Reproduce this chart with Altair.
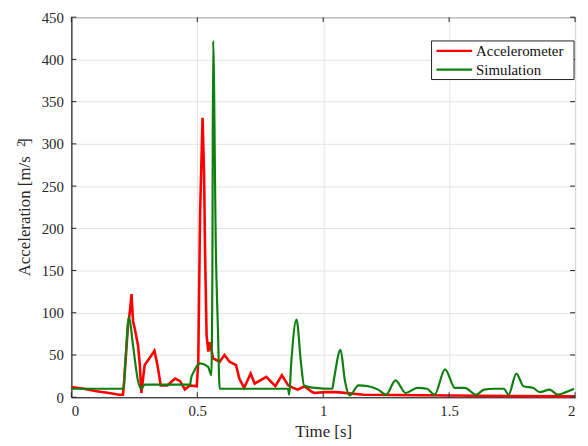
import altair as alt
import pandas as pd

# Accelerometer (red)
red_t = [0.00, 0.05, 0.10, 0.15, 0.19, 0.205, 0.21, 0.225, 0.232, 0.239, 0.245, 0.252, 0.265, 0.272, 0.278,
         0.291, 0.31, 0.33, 0.342, 0.355, 0.381, 0.412, 0.432, 0.451, 0.471, 0.498, 0.504, 0.511, 0.521,
         0.527, 0.531, 0.537, 0.544, 0.55, 0.563, 0.589, 0.608, 0.628, 0.654, 0.667, 0.686, 0.712, 0.728,
         0.774, 0.81, 0.836, 0.861, 0.881, 0.899, 0.926, 0.952, 0.965, 1.004, 1.055, 1.16, 1.5, 2.0]
red_y = [12, 10, 7, 5, 3, 3, 20, 85, 100, 122, 90, 81, 61, 38, 5,
         38, 46, 55, 38, 14, 14, 22, 19, 9, 14, 13, 42, 214, 331,
         265, 171, 73, 54, 65, 46, 42, 50, 42, 38, 22, 11, 28, 16,
         24, 13, 26, 14, 11, 9, 13, 7, 5, 6, 6, 3, 2, 1]

# Simulation (green)
green_t = [0.0, 0.207, 0.214, 0.229, 0.245, 0.265, 0.278, 0.291, 0.472, 0.475, 0.486, 0.511, 0.543, 0.556,
           0.56, 0.563, 0.574, 0.582, 0.589, 0.86, 0.865, 0.873, 0.894, 0.912, 0.924, 0.97, 1.036, 1.042,
           1.069, 1.086, 1.105, 1.14, 1.179, 1.218, 1.25, 1.287, 1.328, 1.374, 1.412, 1.442, 1.484, 1.523,
           1.562, 1.607, 1.639, 1.678, 1.717, 1.736, 1.767, 1.795, 1.834, 1.86, 1.899, 1.931, 1.964, 1.996]
green_y = [10, 10, 40, 95, 61, 19, 10, 15, 15, 22, 30, 40, 36, 26,
           150, 422, 171, 81, 10, 10, 3, 40, 92, 40, 14, 11, 10, 20,
           56, 20, 2, 14, 13, 9, 3, 20, 5, 11, 10, 3, 33, 11,
           11, 3, 9, 10, 10, 3, 28, 13, 11, 6, 9, 3, 6, 10]

series_names = ["Accelerometer", "Simulation"]
series_colors = ["#ff0000", "#0f800f"]

x_ticks = [0, 0.5, 1, 1.5, 2]
y_ticks = list(range(0, 451, 50))

FONT = "Liberation Serif"
W, H = 509, 384

red_df = pd.DataFrame({"t": red_t, "a": red_y, "o": range(len(red_t))})
green_df = pd.DataFrame({"t": green_t, "a": green_y, "o": range(len(green_t))})

xs = alt.Scale(domain=[0, 2], nice=False)
ys = alt.Scale(domain=[0, 450], nice=False)
x_axis = alt.Axis(values=x_ticks, title="Time [s]", labelExpr="datum.value", labelFont=FONT, labelFontSize=15,
                  labelColor="#262626", titleFont=FONT, titleFontSize=17, titleFontWeight="normal",
                  titleColor="#262626", titlePadding=6, labelPadding=6, ticks=False,
                  domainColor="#222", gridColor="#e3e3e3")
y_axis = alt.Axis(values=y_ticks, title=None, labelFont=FONT, labelFontSize=15,
                  labelColor="#262626", labelPadding=8, ticks=False,
                  domainColor="#222", gridColor="#e3e3e3")

red = alt.Chart(red_df).mark_line(strokeWidth=2.6, color=series_colors[0]).encode(
    x=alt.X("t:Q", scale=xs, axis=x_axis), y=alt.Y("a:Q", scale=ys, axis=y_axis), order="o:Q")
green = alt.Chart(green_df).mark_line(strokeWidth=2.2, color=series_colors[1],
                                      interpolate="monotone").encode(
    x=alt.X("t:Q", scale=xs, axis=x_axis), y=alt.Y("a:Q", scale=ys, axis=y_axis), order="o:Q")

# inward tick marks (MATLAB box style)
xt = pd.DataFrame({"t": x_ticks})
yt = pd.DataFrame({"a": y_ticks})
xtick_b = alt.Chart(xt).mark_rule(color="#222").encode(x=alt.X("t:Q", scale=xs, axis=x_axis), y=alt.value(H), y2=alt.value(H - 5))
xtick_t = alt.Chart(xt).mark_rule(color="#222").encode(x=alt.X("t:Q", scale=xs, axis=x_axis), y=alt.value(0), y2=alt.value(5))
ytick_l = alt.Chart(yt).mark_rule(color="#222").encode(y=alt.Y("a:Q", scale=ys, axis=y_axis), x=alt.value(0), x2=alt.value(5))
ytick_r = alt.Chart(yt).mark_rule(color="#222").encode(y=alt.Y("a:Q", scale=ys, axis=y_axis), x=alt.value(W), x2=alt.value(W - 5))

# y title with superscript
title_df = pd.DataFrame({"txt": ["Acceleration [m/s\u00a0\u00a0\u00a0]"]})
ytitle = alt.Chart(title_df).mark_text(angle=270, font=FONT, fontSize=17, color="#262626",
                                       align="center", baseline="middle").encode(
    text="txt:N", x=alt.value(-47), y=alt.value(192))
sup_df = pd.DataFrame({"txt": ["2"]})
ysup = alt.Chart(sup_df).mark_text(angle=270, font=FONT, fontSize=12, color="#262626",
                                   align="center", baseline="middle").encode(
    text="txt:N", x=alt.value(-51), y=alt.value(128))

# legend drawn by hand
leg_df = pd.DataFrame({"name": series_names, "color": series_colors, "ypos": [34, 53]})
leg_box = alt.Chart(pd.DataFrame({"k": [0]})).mark_rect(fill="white", stroke="#222", strokeWidth=1).encode(
    x=alt.value(364), x2=alt.value(508), y=alt.value(24), y2=alt.value(63))
leg_lines = alt.Chart(leg_df).mark_rule(strokeWidth=2.4).encode(
    x=alt.value(369), x2=alt.value(405), y=alt.Y("ypos:Q", scale=None),
    color=alt.Color("color:N", scale=None))
leg_text = alt.Chart(leg_df).mark_text(font=FONT, fontSize=15, color="#111", align="left",
                                       baseline="middle").encode(
    x=alt.value(409), y=alt.Y("ypos:Q", scale=None), text="name:N")

chart = alt.layer(red, green, xtick_b, xtick_t, ytick_l, ytick_r, ytitle, ysup,
                  leg_box, leg_lines, leg_text).properties(
    width=W, height=H,
    autosize=alt.AutoSizeParams(type="none"),
    padding={"left": 64, "top": 7, "right": 5, "bottom": 46},
).configure(font=FONT).configure_view(stroke="#222", strokeWidth=1).configure_axis(
    labelFont=FONT, titleFont=FONT)

chart.save("out.html", embed_options={"renderer": "svg", "actions": False})
